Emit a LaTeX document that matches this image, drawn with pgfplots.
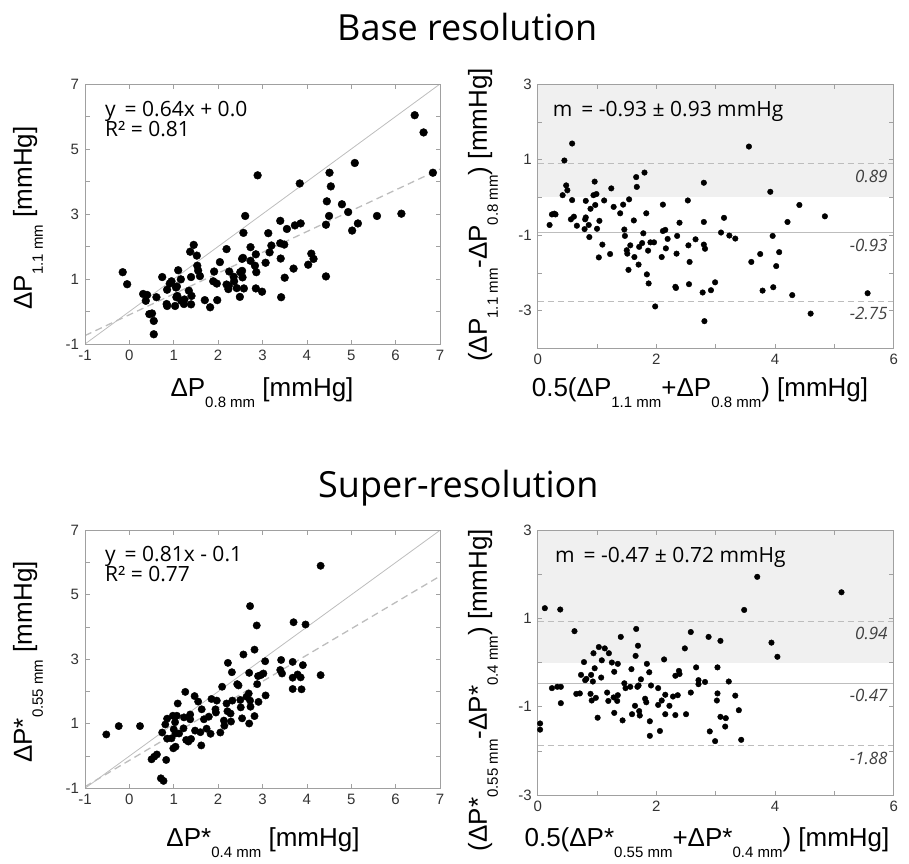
\documentclass[border=0pt]{standalone}
\usepackage{fontspec}
\setmainfont{Open Sans}
\newfontfamily\arial{Liberation Sans}
\usepackage{pgfplots}
\pgfplotsset{compat=1.18}
\definecolor{boxgray}{HTML}{A0A0A0}
\definecolor{linegray}{HTML}{BDBDBD}
\definecolor{shade}{HTML}{F0F0F0}
\definecolor{ticktext}{HTML}{333333}
\definecolor{labgray}{HTML}{404040}
\newcommand\sub[1]{\raisebox{-0.42em}{\fontsize{15}{15}\selectfont #1}}
\newcommand\labfont{\arial\fontsize{26}{26}\selectfont}
\newcommand\annfont{\fontsize{21}{21}\selectfont}
\pgfplotsset{
  mstyle/.style={
    scale only axis, anchor=south west,
    axis line style={boxgray, line width=0.7pt},
    tick style={boxgray, line width=0.7pt},
    tick align=inside, major tick length=4.5pt,
    ticklabel style={font=\arial\fontsize{15}{15}\selectfont, text=ticktext},
    xticklabel style={yshift=-2.5pt},
    yticklabel style={xshift=-2.5pt},
    axis on top,
  },
}
\pgfplotstableread{
x y
-0.15 1.21
-0.05 0.84
0.31 0.54
0.37 0.33
0.40 0.51
0.61 0.44
0.45 -0.08
0.51 -0.06
0.55 -0.29
0.55 -0.70
0.74 1.06
0.85 0.67
0.84 0.23
0.85 0.17
0.91 0.86
0.95 0.93
1.03 0.17
1.05 0.74
1.06 0.44
1.08 0.48
1.10 1.27
1.16 0.99
1.17 0.33
1.23 0.23
1.24 0.37
1.07 0.77
1.34 0.64
1.40 0.48
1.39 0.22
1.37 1.84
1.45 2.05
1.52 1.72
1.39 1.06
1.53 1.41
1.55 1.26
1.59 1.09
1.70 0.35
1.82 0.13
1.91 1.23
1.89 0.93
1.97 0.86
1.98 0.35
2.04 1.52
2.19 1.92
2.19 0.83
2.23 0.69
2.24 0.79
2.25 1.23
2.35 1.07
2.36 0.93
2.42 0.72
2.49 0.45
2.50 1.21
2.54 1.25
2.55 1.05
2.54 1.62
2.56 1.65
2.57 2.42
2.58 0.71
2.61 2.94
2.73 1.98
2.73 1.56
2.83 1.41
2.85 1.76
2.86 1.21
2.85 0.71
2.89 4.19
2.99 0.61
3.07 1.50
3.13 2.41
3.16 1.82
3.20 2.03
3.40 2.79
3.40 2.10
3.41 1.63
3.42 0.44
3.49 2.06
3.50 1.04
3.55 2.54
3.70 1.32
3.73 2.65
3.84 3.94
3.86 2.71
4.03 1.44
4.10 1.78
4.15 1.62
4.43 2.67
4.43 1.08
4.45 3.39
4.50 2.94
4.51 4.27
4.54 3.85
4.79 3.30
4.93 3.06
5.02 2.49
5.08 4.57
5.15 2.71
5.58 2.94
6.13 3.01
6.43 6.04
6.63 5.51
6.84 4.27
}\tlA
\pgfplotstableread{
x y
0.20 -0.73
0.24 -0.45
0.28 -0.43
0.30 -0.45
0.42 0.06
0.45 0.98
0.48 0.32
0.50 0.19
0.58 1.43
0.58 -0.07
0.56 -0.58
0.61 -0.51
0.66 -0.75
0.79 -0.84
0.80 -0.58
0.81 -0.09
0.81 -0.53
0.86 -0.73
0.87 -1.05
0.89 -0.30
0.94 0.06
0.96 0.42
0.97 -0.20
0.99 0.09
1.00 -0.83
1.04 -0.62
1.03 -1.59
1.09 -1.25
1.12 -0.08
1.22 -1.50
1.24 0.24
1.28 -0.25
1.39 -0.42
1.44 -0.19
1.46 -0.85
1.47 -1.02
1.50 -1.40
1.51 -1.49
1.53 -1.92
1.54 -0.05
1.56 -1.27
1.62 -0.61
1.63 -1.58
1.66 0.54
1.67 0.28
1.70 -1.78
1.71 -1.31
1.76 -1.21
1.78 -0.95
1.80 0.66
1.83 -0.42
1.84 -2.04
1.86 -1.41
1.87 -2.28
1.90 -1.19
1.96 -1.19
1.98 -2.89
2.09 -1.58
2.11 -0.19
2.11 -0.89
2.15 -0.86
2.16 -1.35
2.19 -1.10
2.32 -2.37
2.33 -2.40
2.34 -1.49
2.35 -1.02
2.39 -0.67
2.53 -0.08
2.54 -1.27
2.56 -1.71
2.55 -2.30
2.66 -1.11
2.78 -2.52
2.80 -1.25
2.80 -0.65
2.80 0.39
2.81 -3.28
2.82 -1.36
2.92 -2.46
2.99 -2.25
3.09 -0.93
3.14 -0.54
3.23 -1.01
3.33 -1.09
3.56 1.35
3.60 -1.71
3.75 -1.50
3.79 -2.47
3.92 0.15
3.96 -1.02
3.97 -2.38
4.02 -1.82
4.07 -1.45
4.21 -0.65
4.29 -2.59
4.41 -0.20
4.60 -3.08
4.84 -0.50
5.56 -2.54
}\trA
\pgfplotstableread{
x y
-0.52 0.67
-0.24 0.93
0.24 0.93
0.50 -0.10
0.56 -0.02
0.62 0.05
0.71 -0.69
0.77 -0.77
0.74 0.73
0.81 0.98
0.83 -0.12
0.85 1.16
0.85 0.54
0.95 0.55
0.98 1.25
0.99 0.24
1.00 0.83
1.03 1.05
1.04 0.29
1.04 0.70
1.07 1.25
1.09 1.63
1.12 0.70
1.22 0.86
1.23 1.20
1.26 1.99
1.28 0.50
1.33 0.45
1.37 1.29
1.37 1.14
1.39 0.53
1.47 1.86
1.48 0.79
1.55 1.69
1.60 0.74
1.62 0.33
1.63 1.45
1.68 1.14
1.74 0.85
1.79 1.22
1.83 0.69
1.85 1.77
1.94 1.45
1.95 1.35
1.97 1.72
2.05 0.73
2.09 2.15
2.13 1.10
2.14 0.94
2.19 1.63
2.21 1.39
2.22 2.89
2.28 1.32
2.29 1.07
2.31 2.60
2.32 1.72
2.43 2.23
2.46 2.19
2.50 1.74
2.51 1.51
2.54 1.17
2.57 3.15
2.64 1.84
2.69 1.94
2.70 2.58
2.70 1.01
2.72 4.65
2.72 1.72
2.73 1.53
2.82 3.30
2.82 1.24
2.87 4.05
2.88 2.23
2.90 2.48
2.91 1.68
2.96 2.51
3.02 2.56
3.06 2.94
3.07 1.88
3.40 2.67
3.42 2.98
3.44 2.56
3.68 2.92
3.68 2.43
3.68 2.08
3.70 4.15
3.79 2.53
3.86 2.44
3.88 2.07
3.91 2.82
3.97 4.08
4.31 2.51
4.31 5.90
}\blA
\pgfplotstableread{
x y
0.04 -1.38
0.04 -1.52
0.12 1.23
0.24 -0.58
0.33 -0.55
0.38 1.20
0.39 -0.55
0.39 -0.92
0.62 0.71
0.65 -0.71
0.71 -0.70
0.73 -0.28
0.78 0.01
0.80 -0.40
0.82 -0.37
0.89 -0.71
0.90 -0.28
0.91 -0.86
0.93 -0.43
0.94 0.21
0.96 -0.13
0.98 -0.80
1.01 -1.25
1.03 0.35
1.07 -0.34
1.08 0.05
1.13 0.32
1.17 -0.68
1.19 -0.87
1.20 0.21
1.25 0.00
1.28 -0.79
1.29 -1.14
1.29 -0.21
1.34 -0.87
1.35 -0.03
1.35 -0.74
1.40 0.58
1.43 -1.31
1.46 -0.47
1.48 -0.58
1.56 -0.55
1.58 -0.15
1.59 -1.17
1.64 -0.98
1.65 0.15
1.66 0.76
1.69 0.38
1.68 -0.55
1.70 -0.52
1.71 -1.10
1.72 -1.20
1.74 -0.38
1.81 -0.82
1.83 -0.90
1.84 -0.03
1.88 -0.22
1.89 -1.33
1.89 -1.66
1.91 -0.52
2.03 -0.58
2.03 -0.96
2.06 -1.55
2.09 -0.86
2.13 0.07
2.15 -0.73
2.15 -1.17
2.22 -0.98
2.28 -0.77
2.32 -1.19
2.32 -0.30
2.36 -0.74
2.38 -0.19
2.39 -0.26
2.48 0.32
2.50 -1.17
2.58 -0.68
2.58 0.69
2.67 -0.11
2.71 -0.40
2.71 -0.49
2.82 -0.44
2.88 0.58
2.90 -1.56
2.99 -1.78
3.02 -0.86
3.03 -0.11
3.03 -0.70
3.08 -1.23
3.08 0.49
3.17 -1.26
3.16 -1.45
3.22 -0.43
3.33 -0.75
3.39 -1.08
3.43 -1.75
3.48 1.19
3.70 1.94
3.94 0.45
4.04 0.13
5.12 1.59
}\brA
\begin{document}
\begin{tikzpicture}[x=1pt,y=1pt]
\path[use as bounding box] (0pt,0pt) rectangle (909pt,-863pt);
% ---------- titles
\node[anchor=base west, inner sep=0, font=\fontsize{36}{36}\selectfont] at (337pt,-40.7pt) {Base resolution};
\node[anchor=base west, inner sep=0, font=\fontsize{36}{36}\selectfont] at (318pt,-497pt) {Super-resolution};
% ---------- top left
\begin{axis}[mstyle, at={(85pt,-344pt)}, width=355pt, height=260pt,
  xmin=-1, xmax=7, ymin=-1, ymax=7,
  xtick={-1,0,...,7}, xticklabels={-1,0,1,2,3,4,5,6,7},
  ytick={-1,0,...,7}, yticklabels={-1,,1,,3,,5,,7}]
\addplot[linegray, line width=0.8pt] coordinates {(-1,-1) (7,7)};
\addplot[linegray, line width=1.3pt, dash pattern=on 7pt off 4.5pt] coordinates {(-1,-0.74) (7,4.38)};
\addplot[only marks, mark=*, mark size=3.9pt, black] table {\tlA};
\end{axis}
\node[anchor=base west, inner sep=0, font=\annfont] at (105pt,-116pt) {y\, = 0.64x + 0.0};
\node[anchor=base west, inner sep=0, font=\annfont] at (105pt,-136pt) {R² = 0.81};
\node[font=\labfont] at (262pt,-393pt) {ΔP\sub{0.8 mm} [mmHg]};
\node[font=\labfont, rotate=90] at (28pt,-218pt) {ΔP\sub{1.1 mm} [mmHg]};
% ---------- top right
\begin{axis}[mstyle, at={(537.7pt,-348.3pt)}, width=356pt, height=264pt,
  xmin=0, xmax=6, ymin=-4, ymax=3,
  xtick={0,...,6}, xticklabels={0,,2,,4,,6},
  ytick={-4,...,3}, yticklabels={,-3,,-1,,1,,3}]
\addplot[fill=shade, draw=none] coordinates {(0,0) (0,3) (6,3) (6,0)} -- cycle;
\addplot[linegray, line width=0.9pt, dash pattern=on 6pt off 4pt] coordinates {(0,0.89) (6,0.89)};
\addplot[linegray, line width=0.9pt] coordinates {(0,-0.93) (6,-0.93)};
\addplot[linegray, line width=0.9pt, dash pattern=on 6pt off 4pt] coordinates {(0,-2.75) (6,-2.75)};
\addplot[only marks, mark=*, mark size=2.8pt, black] table {\trA};
\node[anchor=north east, inner sep=0, text=labgray, font=\fontsize{17}{17}\selectfont\itshape] at (axis cs:5.9,0.89) [yshift=-6pt] {0.89};
\node[anchor=north east, inner sep=0, text=labgray, font=\fontsize{17}{17}\selectfont\itshape] at (axis cs:5.9,-0.93) [yshift=-6pt] {-0.93};
\node[anchor=north east, inner sep=0, text=labgray, font=\fontsize{17}{17}\selectfont\itshape] at (axis cs:5.9,-2.75) [yshift=-6pt] {-2.75};
\end{axis}
\node[anchor=base west, inner sep=0, font=\annfont] at (552.7pt,-116pt) {m\, = -0.93 ± 0.93 mmHg};
\node[font=\labfont] at (700pt,-393pt) {0.5(ΔP\sub{1.1 mm}+ΔP\sub{0.8 mm}) [mmHg]};
\node[font=\labfont, rotate=90] at (483pt,-215pt) {(ΔP\sub{1.1 mm}-ΔP\sub{0.8 mm}) [mmHg]};
% ---------- bottom left
\begin{axis}[mstyle, at={(85pt,-788.3pt)}, width=355pt, height=258pt,
  xmin=-1, xmax=7, ymin=-1, ymax=7,
  xtick={-1,0,...,7}, xticklabels={-1,0,1,2,3,4,5,6,7},
  ytick={-1,0,...,7}, yticklabels={-1,,1,,3,,5,,7}]
\addplot[linegray, line width=0.8pt] coordinates {(-1,-1) (7,7)};
\addplot[linegray, line width=1.3pt, dash pattern=on 7pt off 4.5pt] coordinates {(-1,-0.95) (7,5.58)};
\addplot[only marks, mark=*, mark size=3.7pt, black] table {\blA};
\end{axis}
\node[anchor=base west, inner sep=0, font=\annfont] at (105pt,-561pt) {y\, = 0.81x - 0.1};
\node[anchor=base west, inner sep=0, font=\annfont] at (105pt,-581pt) {R² = 0.77};
\node[font=\labfont] at (263pt,-843pt) {ΔP*\sub{0.4 mm} [mmHg]};
\node[font=\labfont, rotate=90] at (28pt,-662pt) {ΔP*\sub{0.55 mm} [mmHg]};
% ---------- bottom right
\begin{axis}[mstyle, at={(537.7pt,-795pt)}, width=356pt, height=265pt,
  xmin=0, xmax=6, ymin=-3, ymax=3,
  xtick={0,...,6}, xticklabels={0,,2,,4,,6},
  ytick={-3,...,3}, yticklabels={-3,,-1,,1,,3}]
\addplot[fill=shade, draw=none] coordinates {(0,0) (0,3) (6,3) (6,0)} -- cycle;
\addplot[linegray, line width=0.9pt, dash pattern=on 6pt off 4pt] coordinates {(0,0.94) (6,0.94)};
\addplot[linegray, line width=0.9pt] coordinates {(0,-0.47) (6,-0.47)};
\addplot[linegray, line width=0.9pt, dash pattern=on 6pt off 4pt] coordinates {(0,-1.88) (6,-1.88)};
\addplot[only marks, mark=*, mark size=2.8pt, black] table {\brA};
\node[anchor=north east, inner sep=0, text=labgray, font=\fontsize{17}{17}\selectfont\itshape] at (axis cs:5.9,0.94) [yshift=-6pt] {0.94};
\node[anchor=north east, inner sep=0, text=labgray, font=\fontsize{17}{17}\selectfont\itshape] at (axis cs:5.9,-0.47) [yshift=-6pt] {-0.47};
\node[anchor=north east, inner sep=0, text=labgray, font=\fontsize{17}{17}\selectfont\itshape] at (axis cs:5.9,-1.88) [yshift=-6pt] {-1.88};
\end{axis}
\node[anchor=base west, inner sep=0, font=\annfont] at (555pt,-562pt) {m\, = -0.47 ± 0.72 mmHg};
\node[font=\labfont] at (707pt,-843pt) {0.5(ΔP*\sub{0.55 mm}+ΔP*\sub{0.4 mm}) [mmHg]};
\node[font=\labfont, rotate=90] at (483pt,-690pt) {(ΔP*\sub{0.55 mm}-ΔP*\sub{0.4 mm}) [mmHg]};
\end{tikzpicture}
\end{document}
